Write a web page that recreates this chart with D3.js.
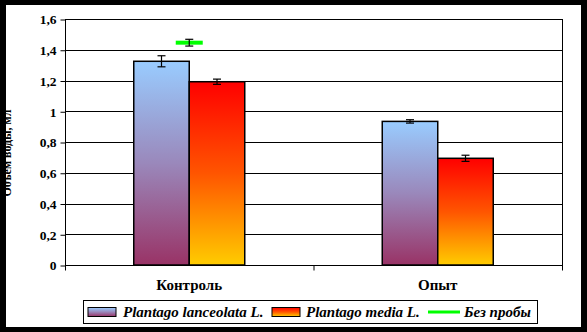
<!DOCTYPE html>
<html><head><meta charset="utf-8">
<script src="https://cdn.jsdelivr.net/npm/d3@7"></script>
<style>html,body{margin:0;padding:0;background:#000;}svg{display:block;}</style>
</head><body>
<script>
const categories = ["Контроль", "Опыт"];
const seriesNames = ["Plantago lanceolata L.", "Plantago media L."];
const lanceolata = [1.325, 0.934];
const lanceolataErr = [0.036, 0.011];
const media = [1.192, 0.694];
const mediaErr = [0.017, 0.02];
const bezProby = [1.446, null];
const bezProbyErr = [0.022, null];
const lineName = "Без пробы";
const yTicks = [0, 0.2, 0.4, 0.6, 0.8, 1, 1.2, 1.4, 1.6];
const yLabel = "Объем воды, мл";

const W = 587, H = 332;
const svg = d3.select("body").append("svg").attr("width", W).attr("height", H);
const defs = svg.append("defs");
function grad(id, stops) {
  const g = defs.append("linearGradient").attr("id", id).attr("x1", 0).attr("y1", 0).attr("x2", 0).attr("y2", 1);
  stops.forEach(s => g.append("stop").attr("offset", s[0]).attr("stop-color", s[1]));
}
grad("gBlue", [[0, "#99CCFF"], [0.5, "#9A88BB"], [1, "#993366"]]);
grad("gRed", [[0, "#FF0000"], [0.5, "#FF5500"], [1, "#FFCC00"]]);
defs.append("clipPath").attr("id", "panel").append("rect").attr("x", 6).attr("y", 5).attr("width", 575).attr("height", 322);

svg.append("rect").attr("x", 0).attr("y", 0).attr("width", W).attr("height", H).attr("fill", "#000");
svg.append("rect").attr("x", 6).attr("y", 5).attr("width", 575).attr("height", 322).attr("fill", "#fff");

const x0 = 65, x1 = 562, yTop = 19, yBot = 265;
const x = d3.scaleBand().domain(categories).range([x0, x1]).paddingInner(0).paddingOuter(0);
const y = d3.scaleLinear().domain([0, 1.6]).range([yBot, yTop]);
const bw = 55.5;

const fontSerif = "'Liberation Serif','Times New Roman',serif";

// gridlines
svg.append("g").selectAll("line").data(yTicks.filter(t => t > 0)).join("line")
  .attr("x1", x0).attr("x2", x1).attr("y1", d => Math.round(y(d)) + 0.5).attr("y2", d => Math.round(y(d)) + 0.5)
  .attr("stroke", "#000").attr("stroke-width", 1);
// right border
svg.append("line").attr("x1", x1 + 0.5).attr("x2", x1 + 0.5).attr("y1", yTop).attr("y2", yBot).attr("stroke", "#000");

// y axis
const yAxis = d3.axisLeft(y).tickValues(yTicks).tickSize(5).tickPadding(4)
  .tickFormat(d => d3.format(".1f")(d).replace(".", ",").replace(/,0$/, ""));
const ya = svg.append("g").attr("transform", `translate(${x0 + 0.5},0.5)`).call(yAxis);
ya.select(".domain").remove();
ya.append("line").attr("x1", 0).attr("x2", 0).attr("y1", y(1.6) - 0.5).attr("y2", y(0)).attr("stroke", "#000");
ya.selectAll("line").attr("stroke", "#000");
ya.selectAll("text").attr("font-family", fontSerif).attr("font-weight", "bold").attr("font-size", 13.5).attr("fill", "#000");

// x axis
const xa = svg.append("g").attr("transform", `translate(0,${yBot + 0.5})`);
xa.append("line").attr("x1", x0).attr("x2", x1 + 1).attr("y1", 0).attr("y2", 0).attr("stroke", "#000");
const bounds = [x0, ...categories.map(c => x(c) + x.bandwidth())];
xa.selectAll("line.tk").data(bounds).join("line").attr("class", "tk")
  .attr("x1", d => d + 0.5).attr("x2", d => d + 0.5).attr("y1", 0).attr("y2", 5).attr("stroke", "#000");
xa.selectAll("text").data(categories).join("text")
  .attr("x", d => x(d) + x.bandwidth() / 2).attr("y", 24).attr("text-anchor", "middle")
  .attr("font-family", fontSerif).attr("font-weight", "bold").attr("font-size", 15).text(d => d);

// bars
const series = [
  { vals: lanceolata, err: lanceolataErr, fill: "url(#gBlue)", off: -bw },
  { vals: media, err: mediaErr, fill: "url(#gRed)", off: 0 }
];
series.forEach(s => {
  const g = svg.append("g");
  g.selectAll("rect").data(categories).join("rect")
    .attr("x", (c) => x(c) + x.bandwidth() / 2 + s.off)
    .attr("y", (c, i) => y(s.vals[i]))
    .attr("width", bw).attr("height", (c, i) => y(0) - y(s.vals[i]))
    .attr("fill", s.fill).attr("stroke", "#000").attr("stroke-width", 1.5);
});
series.forEach(s => {
  const g = svg.append("g").attr("stroke", "#000").attr("stroke-width", 1.2);
  categories.forEach((c, i) => {
    const cx = x(c) + x.bandwidth() / 2 + s.off + bw / 2;
    const t = y(s.vals[i] + s.err[i]), b = y(s.vals[i] - s.err[i]);
    g.append("line").attr("x1", cx).attr("x2", cx).attr("y1", t).attr("y2", b);
    g.append("line").attr("x1", cx - 4).attr("x2", cx + 4).attr("y1", t).attr("y2", t);
    g.append("line").attr("x1", cx - 4).attr("x2", cx + 4).attr("y1", b).attr("y2", b);
  });
});
// Без пробы marker
categories.forEach((c, i) => {
  if (bezProby[i] == null) return;
  const cx = x(c) + x.bandwidth() / 2;
  svg.append("line").attr("x1", cx - 13.5).attr("x2", cx + 13.5).attr("y1", y(bezProby[i])).attr("y2", y(bezProby[i]))
    .attr("stroke", "#00FF00").attr("stroke-width", 4);
  const t = y(bezProby[i] + bezProbyErr[i]), b = y(bezProby[i] - bezProbyErr[i]);
  const g = svg.append("g").attr("stroke", "#000").attr("stroke-width", 1.2);
  g.append("line").attr("x1", cx).attr("x2", cx).attr("y1", t).attr("y2", b);
  g.append("line").attr("x1", cx - 4).attr("x2", cx + 4).attr("y1", t).attr("y2", t);
  g.append("line").attr("x1", cx - 4).attr("x2", cx + 4).attr("y1", b).attr("y2", b);
});

// y label (clipped by the frame)
svg.append("g").attr("clip-path", "url(#panel)").append("text")
  .attr("transform", "translate(11,153) rotate(-90)").attr("text-anchor", "middle")
  .attr("font-family", fontSerif).attr("font-weight", "bold").attr("font-size", 12).text(yLabel);

// legend
const lg = svg.append("g");
lg.append("rect").attr("x", 83.5).attr("y", 300.5).attr("width", 454).attr("height", 23).attr("fill", "#fff").attr("stroke", "#000");
const legItems = [
  { type: "rect", fill: "url(#gBlue)", name: seriesNames[0], sx: 88, tx: 123 },
  { type: "rect", fill: "url(#gRed)", name: seriesNames[1], sx: 272, tx: 306 },
  { type: "line", name: lineName, sx: 428, tx: 464 }
];
legItems.forEach(it => {
  if (it.type === "rect") {
    lg.append("rect").attr("x", it.sx).attr("y", 307.5).attr("width", 28).attr("height", 9)
      .attr("fill", it.fill).attr("stroke", "#000").attr("stroke-width", 1);
  } else {
    lg.append("line").attr("x1", it.sx).attr("x2", it.sx + 32).attr("y1", 312).attr("y2", 312)
      .attr("stroke", "#00FF00").attr("stroke-width", 3);
  }
  lg.append("text").attr("x", it.tx).attr("y", 317).attr("font-family", fontSerif)
    .attr("font-weight", "bold").attr("font-style", "italic").attr("font-size", 15).text(it.name);
});
</script>
</body></html>
